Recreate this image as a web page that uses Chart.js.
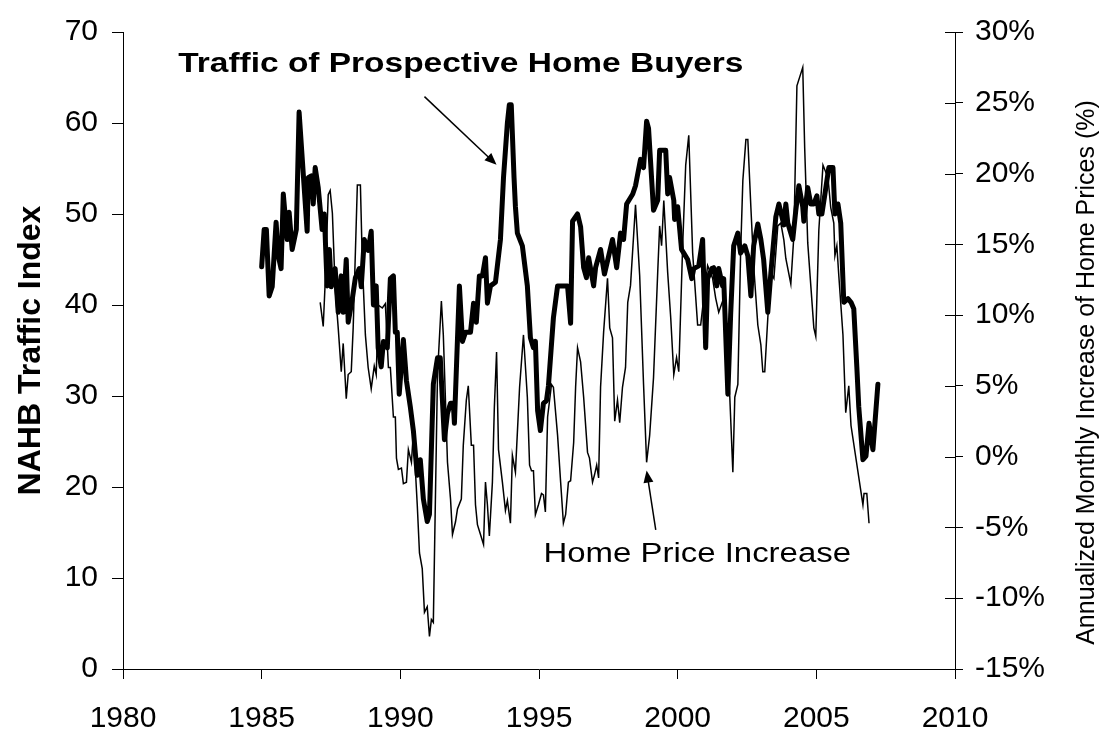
<!DOCTYPE html>
<html>
<head>
<meta charset="utf-8">
<title>NAHB Traffic vs Home Price Increase</title>
<script src="https://cdn.jsdelivr.net/npm/chart.js@4.4.1/dist/chart.umd.min.js"></script>
<style>
    body { margin: 0; background: #fff; }
    canvas { display: block; }
</style>
</head>
<body>
<canvas id="trafficChart" width="1113" height="736"></canvas>
<script>
// NAHB traffic of prospective buyers (left axis)
const trafficYears = [
    1985.00, 1985.09, 1985.17, 1985.27, 1985.38, 1985.52, 1985.60, 1985.70, 1985.78, 1985.92,
    1985.99, 1986.10, 1986.25, 1986.35, 1986.64, 1986.68, 1986.79, 1986.86, 1986.93, 1987.04,
    1987.18, 1987.26, 1987.36, 1987.44, 1987.51, 1987.65, 1987.76, 1987.87, 1987.94, 1988.05,
    1988.12, 1988.27, 1988.38, 1988.52, 1988.59, 1988.70, 1988.84, 1988.95, 1989.03, 1989.13,
    1989.20, 1989.31, 1989.39, 1989.53, 1989.64, 1989.75, 1989.82, 1989.89, 1989.96, 1990.11,
    1990.22, 1990.36, 1990.47, 1990.61, 1990.72, 1990.83, 1990.97, 1991.05, 1991.19, 1991.34,
    1991.44, 1991.59, 1991.70, 1991.81, 1991.91, 1991.95, 1992.13, 1992.24, 1992.35, 1992.53,
    1992.64, 1992.74, 1992.85, 1992.96, 1993.07, 1993.14, 1993.25, 1993.43, 1993.61, 1993.72,
    1993.86, 1993.93, 1994.00, 1994.10, 1994.15, 1994.22, 1994.40, 1994.58, 1994.69, 1994.80,
    1994.87, 1994.95, 1995.05, 1995.16, 1995.27, 1995.34, 1995.52, 1995.67, 1995.85, 1996.03,
    1996.14, 1996.21, 1996.39, 1996.50, 1996.61, 1996.71, 1996.79, 1996.97, 1997.04, 1997.22,
    1997.36, 1997.65, 1997.80, 1997.94, 1998.05, 1998.16, 1998.38, 1998.48, 1998.66, 1998.77,
    1998.88, 1998.95, 1999.13, 1999.28, 1999.35, 1999.57, 1999.64, 1999.71, 1999.86, 1999.89,
    2000.00, 2000.14, 2000.22, 2000.36, 2000.51, 2000.58, 2000.76, 2000.90, 2001.01, 2001.08,
    2001.23, 2001.30, 2001.41, 2001.48, 2001.62, 2001.66, 2001.81, 2001.91, 2002.02, 2002.17,
    2002.27, 2002.42, 2002.53, 2002.64, 2002.74, 2002.89, 2003.00, 2003.10, 2003.25, 2003.36,
    2003.54, 2003.65, 2003.83, 2003.90, 2003.97, 2004.15, 2004.26, 2004.37, 2004.51, 2004.55,
    2004.69, 2004.80, 2004.91, 2005.02, 2005.09, 2005.20, 2005.31, 2005.45, 2005.60, 2005.67,
    2005.78, 2005.88, 2005.99, 2006.14, 2006.25, 2006.35, 2006.46, 2006.53, 2006.68, 2006.79,
    2006.90, 2007.04, 2007.22
];
const trafficIndex = [
    44.2, 48.3, 48.3, 41.0, 42.0, 49.1, 45.4, 44.0, 52.2, 47.2,
    50.2, 46.1, 48.3, 61.2, 48.1, 54.0, 54.2, 51.1, 55.1, 52.9,
    48.3, 50.0, 42.1, 46.1, 42.0, 44.0, 39.2, 43.2, 39.2, 45.0,
    38.1, 40.7, 43.0, 44.0, 42.0, 47.2, 46.0, 48.1, 40.0, 42.1,
    35.3, 33.2, 36.0, 35.3, 42.9, 43.2, 37.0, 37.0, 30.2, 36.2,
    31.7, 28.8, 26.2, 21.3, 23.0, 18.7, 16.2, 17.0, 31.3, 34.2,
    34.2, 25.2, 28.1, 29.2, 29.2, 27.0, 42.1, 36.0, 37.0, 37.0,
    40.2, 38.1, 43.2, 43.2, 45.2, 40.2, 42.1, 42.5, 47.2, 54.0,
    60.0, 62.0, 62.0, 54.0, 50.8, 47.9, 46.5, 42.1, 36.4, 35.3,
    36.0, 28.4, 26.2, 29.2, 29.5, 31.1, 38.6, 42.1, 42.1, 42.1,
    38.0, 49.2, 50.0, 48.6, 44.1, 43.0, 45.2, 42.1, 44.1, 46.1,
    43.4, 47.2, 44.1, 47.9, 47.2, 51.1, 52.2, 53.1, 56.0, 55.1,
    60.2, 59.4, 50.4, 51.5, 57.0, 57.0, 52.2, 54.0, 51.5, 49.4,
    50.8, 46.1, 45.7, 45.0, 42.9, 44.0, 44.3, 47.2, 35.3, 42.9,
    44.0, 44.1, 42.1, 44.0, 42.1, 42.9, 30.2, 38.9, 46.5, 47.9,
    45.7, 46.5, 45.4, 41.0, 46.5, 48.9, 47.2, 45.0, 39.2, 43.5,
    49.7, 51.1, 48.8, 51.1, 49.0, 47.2, 50.4, 53.1, 50.8, 49.2,
    52.9, 51.1, 51.1, 52.0, 50.0, 50.0, 52.2, 55.1, 55.1, 50.0,
    51.1, 49.0, 40.3, 40.7, 40.3, 39.6, 33.2, 28.8, 23.0, 23.4,
    27.0, 24.1, 31.3
];

// annualized monthly increase of home prices, % (right axis)
const priceYears = [
    1987.11, 1987.22, 1987.29, 1987.40, 1987.47, 1987.55, 1987.65, 1987.76, 1987.87, 1987.94,
    1988.05, 1988.12, 1988.23, 1988.30, 1988.45, 1988.56, 1988.63, 1988.74, 1988.84, 1988.95,
    1989.06, 1989.13, 1989.21, 1989.35, 1989.46, 1989.57, 1989.64, 1989.75, 1989.82, 1989.86,
    1989.93, 1990.04, 1990.11, 1990.22, 1990.29, 1990.40, 1990.47, 1990.61, 1990.69, 1990.79,
    1990.87, 1990.97, 1991.05, 1991.12, 1991.19, 1991.34, 1991.48, 1991.55, 1991.70, 1991.81,
    1991.88, 1991.99, 1992.06, 1992.20, 1992.27, 1992.38, 1992.45, 1992.56, 1992.64, 1992.71,
    1992.78, 1992.89, 1993.00, 1993.07, 1993.14, 1993.21, 1993.32, 1993.39, 1993.47, 1993.54,
    1993.68, 1993.79, 1993.86, 1993.97, 1994.04, 1994.15, 1994.22, 1994.30, 1994.44, 1994.58,
    1994.66, 1994.73, 1994.80, 1994.87, 1994.98, 1995.09, 1995.16, 1995.23, 1995.31, 1995.45,
    1995.52, 1995.67, 1995.78, 1995.88, 1995.96, 1996.06, 1996.14, 1996.25, 1996.32, 1996.39,
    1996.50, 1996.61, 1996.75, 1996.82, 1996.93, 1997.00, 1997.08, 1997.15, 1997.22, 1997.33,
    1997.47, 1997.55, 1997.65, 1997.73, 1997.83, 1997.91, 1998.01, 1998.12, 1998.20, 1998.30,
    1998.48, 1998.63, 1998.77, 1998.88, 1998.99, 1999.13, 1999.28, 1999.35, 1999.42, 1999.50,
    1999.64, 1999.75, 1999.86, 1999.96, 2000.04, 2000.18, 2000.29, 2000.40, 2000.54, 2000.72,
    2000.83, 2000.94, 2001.08, 2001.26, 2001.37, 2001.48, 2001.66, 2001.77, 2001.88, 2001.99,
    2002.06, 2002.17, 2002.27, 2002.35, 2002.46, 2002.53, 2002.64, 2002.74, 2002.89, 2003.00,
    2003.07, 2003.14, 2003.25, 2003.36, 2003.47, 2003.61, 2003.72, 2003.83, 2003.90, 2004.08,
    2004.19, 2004.30, 2004.51, 2004.58, 2004.69, 2004.80, 2004.91, 2004.98, 2005.09, 2005.24,
    2005.42, 2005.52, 2005.63, 2005.67, 2005.74, 2005.81, 2005.96, 2006.06, 2006.17, 2006.25,
    2006.68, 2006.72, 2006.82, 2006.90
];
const priceChange = [
    10.9, 9.2, 12.3, 18.5, 18.8, 17.2, 11.9, 9.1, 6.0, 8.0,
    4.1, 5.8, 6.0, 9.1, 19.2, 19.2, 13.7, 8.6, 6.3, 4.8,
    6.4, 5.8, 10.7, 10.5, 10.8, 6.3, 6.3, 2.8, 2.8, -0.1,
    -0.9, -0.8, -1.9, -1.8, 0.5, -0.4, 1.7, -3.4, -6.8, -7.9,
    -11.0, -10.6, -12.7, -11.5, -11.7, 5.8, 11.0, 8.6, -0.4, -3.0,
    -5.5, -4.6, -3.7, -3.0, 0.8, 4.0, 5.0, 0.8, 0.8, -3.4,
    -4.8, -5.5, -6.2, -1.8, -3.4, -5.6, -1.8, 3.5, 7.4, 0.5,
    -1.8, -3.8, -3.1, -4.7, 0.1, -1.1, 1.7, 4.9, 8.6, 4.2,
    -0.6, -1.0, -1.0, -4.1, -3.4, -2.6, -2.7, -3.9, 2.8, 5.1,
    4.9, 1.5, -1.8, -4.7, -4.1, -1.8, -1.7, 1.0, 4.9, 7.7,
    6.7, 4.2, 0.3, -0.1, -1.8, -1.3, -0.6, -1.5, 4.9, 8.8,
    12.6, 9.1, 8.4, 2.5, 4.0, 2.4, 4.9, 6.3, 10.9, 12.1,
    17.8, 12.8, 5.1, -0.4, 1.5, 5.6, 13.0, 16.3, 14.9, 18.1,
    13.0, 9.8, 5.8, 7.0, 6.0, 14.9, 20.6, 22.7, 14.4, 9.3,
    9.3, 11.2, 13.5, 12.6, 11.2, 10.2, 11.2, 8.4, 4.2, -1.1,
    4.2, 5.1, 14.4, 19.5, 22.4, 22.4, 17.6, 13.5, 9.3, 7.9,
    6.0, 6.0, 9.8, 13.0, 12.6, 16.3, 16.5, 15.3, 14.0, 12.2,
    15.6, 26.2, 27.5, 21.8, 15.1, 12.1, 9.1, 8.5, 16.0, 20.6,
    19.7, 17.6, 16.5, 14.2, 14.9, 12.8, 8.6, 3.1, 5.0, 2.2,
    -3.4, -2.6, -2.6, -4.7
];

const yearTicks = [1980, 1985, 1990, 1995, 2000, 2005, 2010];
const fontFamily = '"Liberation Sans", Arial, Helvetica, sans-serif';

function toPoints(xs, ys) {
    return xs.map((x, i) => ({ x: x, y: ys[i] }));
}

function drawArrow(ctx, x0, y0, x1, y1) {
    const ang = Math.atan2(y1 - y0, x1 - x0);
    const len = 12, half = 5;
    ctx.beginPath();
    ctx.moveTo(x0, y0);
    ctx.lineTo(x1 - Math.cos(ang) * len * 0.8, y1 - Math.sin(ang) * len * 0.8);
    ctx.stroke();
    ctx.beginPath();
    ctx.moveTo(x1, y1);
    ctx.lineTo(x1 - Math.cos(ang) * len + Math.sin(ang) * half, y1 - Math.sin(ang) * len - Math.cos(ang) * half);
    ctx.lineTo(x1 - Math.cos(ang) * len - Math.sin(ang) * half, y1 - Math.sin(ang) * len + Math.cos(ang) * half);
    ctx.closePath();
    ctx.fill();
}

function drawStretchedText(ctx, text, px, py, font, sx) {
    ctx.save();
    ctx.font = font;
    ctx.textAlign = 'left';
    ctx.textBaseline = 'middle';
    ctx.translate(px, py);
    ctx.scale(sx, 1);
    ctx.fillText(text, 0, 0);
    ctx.restore();
}

// right axis title (bottom-to-top), inner tick halves, callouts
const overlayPlugin = {
    id: 'overlay',
    afterDraw(chart) {
        const { ctx, scales: { x, y, y1 } } = chart;
        ctx.save();
        ctx.strokeStyle = '#000';
        ctx.fillStyle = '#000';
        ctx.lineWidth = 1;

        y1.ticks.forEach(t => {
            const py = Math.round(y1.getPixelForValue(t.value)) + 0.5;
            ctx.beginPath();
            ctx.moveTo(y1.left - 10, py);
            ctx.lineTo(y1.left, py);
            ctx.stroke();
        });

        ctx.save();
        ctx.translate(y1.right - 26, (y1.top + y1.bottom) / 2 + 22);
        ctx.rotate(-Math.PI / 2);
        ctx.font = '25px ' + fontFamily;
        ctx.textAlign = 'center';
        ctx.textBaseline = 'middle';
        ctx.fillText('Annualized Monthly Increase of Home Prices (%)', 0, 0);
        ctx.restore();

        drawStretchedText(ctx, 'Traffic of Prospective Home Buyers',
            x.getPixelForValue(1981.99), y.getPixelForValue(66.5), 'bold 28px ' + fontFamily, 1.195);
        drawStretchedText(ctx, 'Home Price Increase',
            x.getPixelForValue(1995.16), y.getPixelForValue(12.6), '27px ' + fontFamily, 1.22);

        ctx.lineWidth = 1.5;
        drawArrow(ctx, x.getPixelForValue(1990.87), y.getPixelForValue(62.9),
            x.getPixelForValue(1993.47), y.getPixelForValue(55.4));
        drawArrow(ctx, x.getPixelForValue(1999.21), y.getPixelForValue(15.3),
            x.getPixelForValue(1998.88), y.getPixelForValue(21.8));
        ctx.restore();
    }
};

const ctx = document.getElementById('trafficChart').getContext('2d');
new Chart(ctx, {
    type: 'line',
    data: {
        datasets: [
            {
                label: 'Traffic of Prospective Home Buyers',
                data: toPoints(trafficYears, trafficIndex),
                yAxisID: 'y',
                borderColor: '#000',
                borderWidth: 5,
                borderJoinStyle: 'round',
                borderCapStyle: 'round',
                pointRadius: 0,
                tension: 0,
                fill: false
            },
            {
                label: 'Home Price Increase',
                data: toPoints(priceYears, priceChange),
                yAxisID: 'y1',
                borderColor: '#000',
                borderWidth: 1.5,
                pointRadius: 0,
                tension: 0,
                fill: false
            }
        ]
    },
    options: {
        responsive: false,
        animation: false,
        layout: { padding: { top: 22, left: 0, right: 0, bottom: 0 } },
        plugins: { legend: { display: false }, tooltip: { enabled: false } },
        scales: {
            x: {
                type: 'linear',
                min: 1980,
                max: 2010,
                afterBuildTicks: s => { s.ticks = yearTicks.map(v => ({ value: v })); },
                afterFit: s => { s.height = 67; },
                grid: { drawOnChartArea: false, tickLength: 10, color: '#000' },
                border: { display: true, color: '#000', width: 1 },
                ticks: {
                    color: '#000',
                    padding: 22,
                    maxRotation: 0,
                    font: { family: fontFamily, size: 30 },
                    callback: v => String(v)
                }
            },
            y: {
                position: 'left',
                min: 0,
                max: 70,
                afterFit: s => { s.width = 123; },
                grid: { drawOnChartArea: false, tickLength: 11, color: '#000' },
                border: { display: true, color: '#000', width: 1 },
                ticks: {
                    stepSize: 10,
                    color: '#000',
                    padding: 14,
                    font: { family: fontFamily, size: 30 }
                },
                title: {
                    display: true,
                    text: 'NAHB Traffic Index',
                    color: '#000',
                    padding: { top: 12, bottom: 0 },
                    font: { family: fontFamily, size: 32, weight: 'bold' }
                }
            },
            y1: {
                position: 'right',
                min: -15,
                max: 30,
                afterFit: s => { s.width = 158; },
                grid: { drawOnChartArea: false, tickLength: 8, color: '#000' },
                border: { display: true, color: '#000', width: 1 },
                ticks: {
                    stepSize: 5,
                    color: '#000',
                    padding: 12,
                    font: { family: fontFamily, size: 30 },
                    callback: v => v + '%'
                }
            }
        }
    },
    plugins: [overlayPlugin]
});
</script>
</body>
</html>
